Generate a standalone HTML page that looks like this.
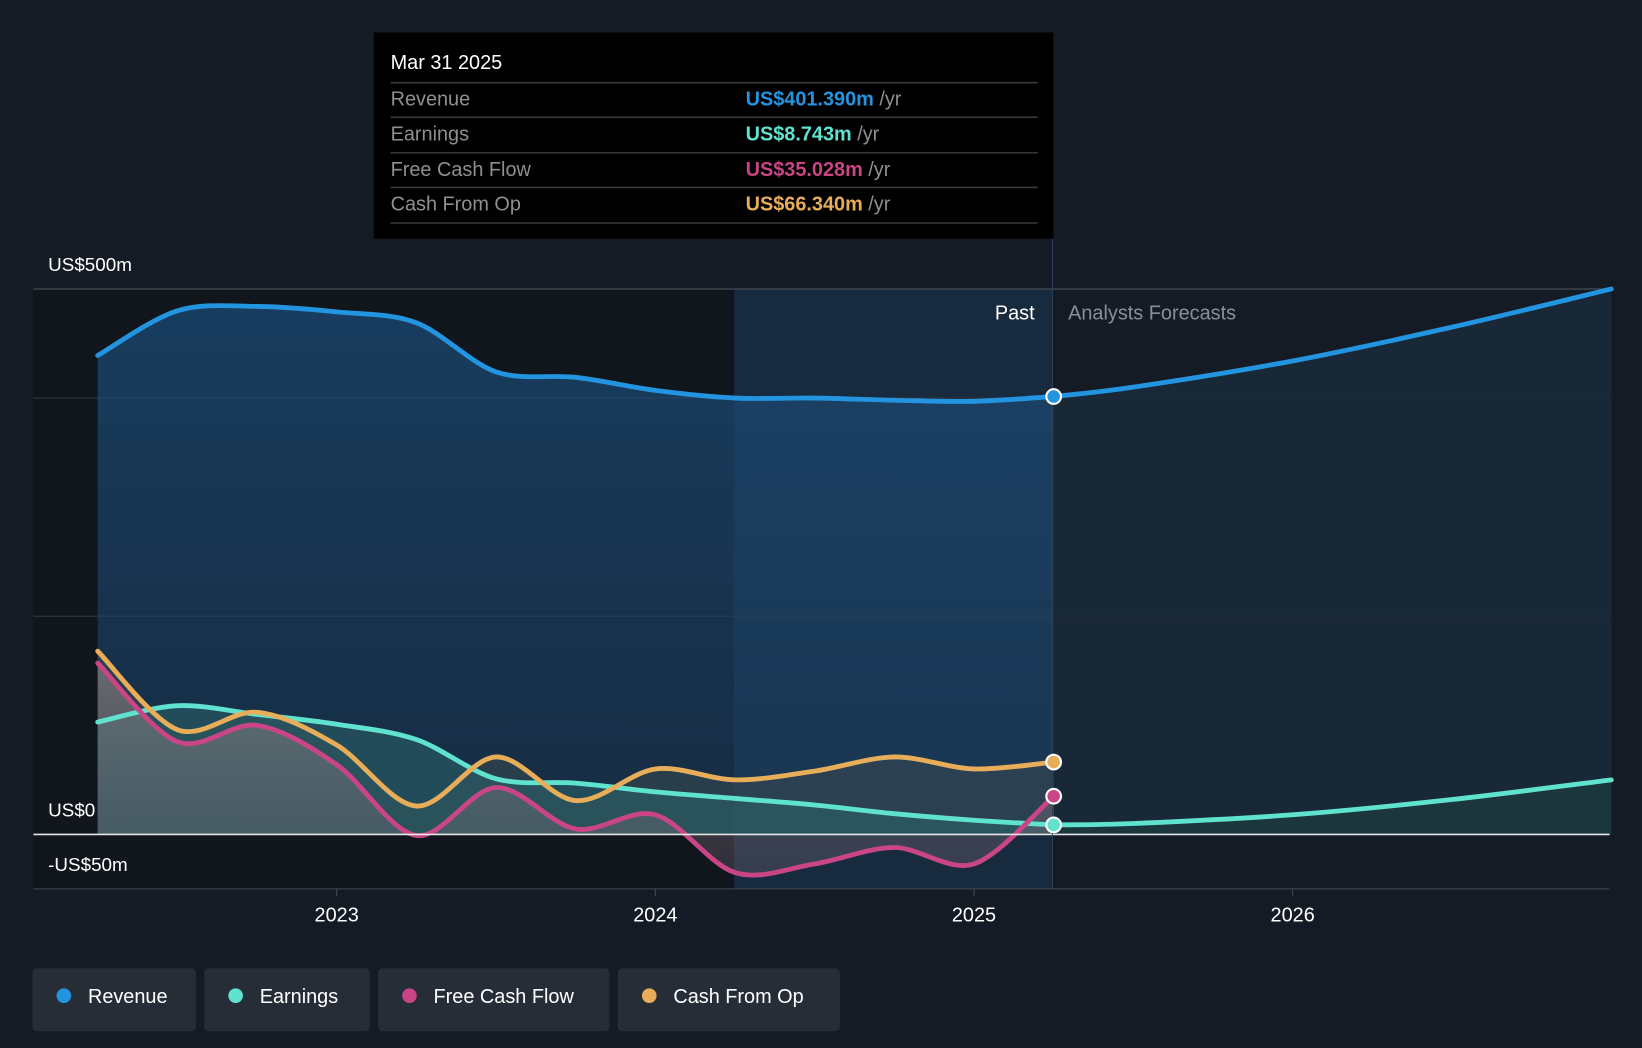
<!DOCTYPE html>
<html><head><meta charset="utf-8"><style>
html,body{margin:0;padding:0;background:#151b25;overflow:hidden}
svg{display:block;font-family:"Liberation Sans",sans-serif}
</style></head><body>
<svg id="chart" width="1642" height="1048" viewBox="0 0 1568 1001" preserveAspectRatio="none" xmlns="http://www.w3.org/2000/svg">
<defs>
<linearGradient id="revFill" x1="0" y1="0" x2="0" y2="1"><stop offset="0" stop-color="#1b4a75" stop-opacity="0.75"/><stop offset="1" stop-color="#1b3f63" stop-opacity="0.55"/></linearGradient>
<linearGradient id="lowFill" x1="0" y1="0" x2="0" y2="1"><stop offset="0" stop-color="#a08e8a" stop-opacity="0.75"/><stop offset="1" stop-color="#6a6070" stop-opacity="0.5"/></linearGradient>
</defs>
<rect x="0" y="0" width="1568" height="1001" fill="#151b25"/>
<rect x="32" y="276" width="669" height="573" fill="#11151c"/>
<rect x="701" y="276" width="304" height="573" fill="#182a3d"/>
<g id="grid"></g>
<g id="areas"></g>
<g id="lines"></g>
<line x1="32" x2="1537" y1="797" y2="797" stroke="#e6e6e6" stroke-width="1.6"/>
<line x1="32" x2="1537" y1="849" y2="849" stroke="#444b55" stroke-width="1"/>
<line x1="1005" x2="1005" y1="228" y2="849" stroke="#2e4157" stroke-width="1"/>
<g id="dots"></g>
<g id="xticks"></g>
<text x="46" y="259" fill="#fff" font-size="18">US$500m</text>
<text x="46" y="780" fill="#fff" font-size="18">US$0</text>
<text x="46" y="832" fill="#fff" font-size="18">-US$50m</text>
<text x="988" y="305" fill="#fff" font-size="19" text-anchor="end">Past</text>
<text x="1020" y="305" fill="#8a8f96" font-size="19">Analysts Forecasts</text>
<g>
<rect x="357" y="31" width="649" height="197" fill="#000"/>
<text x="373" y="66" fill="#fff" font-size="19">Mar 31 2025</text>
<line x1="373" x2="991" y1="79" y2="79" stroke="#3a3a3a" stroke-width="1.5"/>
<text x="373" y="101" fill="#8f8f8f" font-size="19">Revenue</text>
<text x="712" y="101" font-size="19"><tspan fill="#2394e0" font-weight="bold">US$401.390m</tspan><tspan fill="#8f8f8f"> /yr</tspan></text>
<line x1="373" x2="991" y1="112" y2="112" stroke="#3a3a3a" stroke-width="1.5"/>
<text x="373" y="134" fill="#8f8f8f" font-size="19">Earnings</text>
<text x="712" y="134" font-size="19"><tspan fill="#5fe3cf" font-weight="bold">US$8.743m</tspan><tspan fill="#8f8f8f"> /yr</tspan></text>
<line x1="373" x2="991" y1="146" y2="146" stroke="#3a3a3a" stroke-width="1.5"/>
<text x="373" y="168" fill="#8f8f8f" font-size="19">Free Cash Flow</text>
<text x="712" y="168" font-size="19"><tspan fill="#c94586" font-weight="bold">US$35.028m</tspan><tspan fill="#8f8f8f"> /yr</tspan></text>
<line x1="373" x2="991" y1="179" y2="179" stroke="#3a3a3a" stroke-width="1.5"/>
<text x="373" y="201" fill="#8f8f8f" font-size="19">Cash From Op</text>
<text x="712" y="201" font-size="19"><tspan fill="#e8ad59" font-weight="bold">US$66.340m</tspan><tspan fill="#8f8f8f"> /yr</tspan></text>
<line x1="373" x2="991" y1="213" y2="213" stroke="#3a3a3a" stroke-width="1.5"/>
</g>
<g>
<g><rect x="31" y="925" width="156" height="60" rx="4" fill="#272d37"/><circle cx="61" cy="951" r="7" fill="#2394e0"/><text x="84" y="958" fill="#fff" font-size="19">Revenue</text></g>
<g><rect x="195" y="925" width="158" height="60" rx="4" fill="#272d37"/><circle cx="225" cy="951" r="7" fill="#5fe3cf"/><text x="248" y="958" fill="#fff" font-size="19">Earnings</text></g>
<g><rect x="361" y="925" width="221" height="60" rx="4" fill="#272d37"/><circle cx="391" cy="951" r="7" fill="#c94586"/><text x="414" y="958" fill="#fff" font-size="19">Free Cash Flow</text></g>
<g><rect x="590" y="925" width="212" height="60" rx="4" fill="#272d37"/><circle cx="620" cy="951" r="7" fill="#e8ad59"/><text x="643" y="958" fill="#fff" font-size="19">Cash From Op</text></g>
</g>
</svg>
<script>
const pastYears=[2022.25,2022.5,2022.75,2023.0,2023.25,2023.5,2023.75,2024.0,2024.25,2024.5,2024.75,2025.0,2025.25];
const revenue=[439,480,484,479,469,424,419,407,400,400,398,397,401.4];
const earnings=[103,118,110,101,87,51,47,39,33,27,19,13,8.7];
const freeCashFlow=[157,85,100,64,-1,43,5,18,-35,-27,-12,-27,35];
const cashFromOp=[168,96,112,82,26,71,31,60,50,58,71,60,66.3];
const fcYears=[2025.25,2025.5,2026.0,2026.5,2027.0];
const revenueForecast=[401.4,410,434,465,500];
const earningsForecast=[8.7,10,18,32,50];
const gridValues=[500,400,200];
const xTickYears=[2023,2024,2025,2026];
const xTickLabels=["2023","2024","2025","2026"];

const NS="http://www.w3.org/2000/svg";
function X(yr){return 321.5+(yr-2023)*304.3;}
function Y(v){return 797-v*1.042;}
function mk(tag,attrs,parent){const e=document.createElementNS(NS,tag);for(const k in attrs)e.setAttribute(k,attrs[k]);parent.appendChild(e);return e;}
function pathD(xs,vs){
  const p=xs.map((x,i)=>[X(x),Y(vs[i])]);
  let d="M"+p[0][0]+","+p[0][1];
  for(let i=0;i<p.length-1;i++){
    const p0=p[i-1]||p[i],p1=p[i],p2=p[i+1],p3=p[i+2]||p2;
    const t=0.16;
    const c1x=p1[0]+(p2[0]-p0[0])*t,c1y=p1[1]+(p2[1]-p0[1])*t;
    const c2x=p2[0]-(p3[0]-p1[0])*t,c2y=p2[1]-(p3[1]-p1[1])*t;
    d+=" C"+c1x+","+c1y+" "+c2x+","+c2y+" "+p2[0]+","+p2[1];
  }
  return d;
}
function areaD(xs,vs){return pathD(xs,vs)+" L"+X(xs[xs.length-1])+","+Y(0)+" L"+X(xs[0])+","+Y(0)+" Z";}
const grid=document.getElementById('grid'),areas=document.getElementById('areas'),lines=document.getElementById('lines'),dots=document.getElementById('dots'),xt=document.getElementById('xticks');
gridValues.forEach(v=>{const l=mk('line',{x1:32,x2:1537,y1:Y(v),y2:Y(v),stroke:v===500?'#474d57':'#2c3440','stroke-width':1.2},grid);

});
xTickYears.forEach((yr,i)=>{const l=mk('line',{x1:X(yr),x2:X(yr),y1:849,y2:856,stroke:'#444b55'},xt);


const t=mk('text',{x:X(yr),y:880,fill:'#fff','font-size':19,'text-anchor':'middle'},xt);t.textContent=xTickLabels[i];

});
let a;
a=mk('path',{d:areaD(pastYears,revenue),fill:'url(#revFill)'},areas);


a=mk('path',{d:areaD(fcYears,revenueForecast),fill:'#1a2a3b',opacity:0.85},areas);


a=mk('path',{d:areaD(pastYears,cashFromOp),fill:'#3a4a50',opacity:0.55},areas);


a=mk('path',{d:areaD(pastYears,earnings),fill:'#2a6068',opacity:0.6},areas);


a=mk('path',{d:areaD(pastYears,freeCashFlow),fill:'url(#lowFill)',opacity:0.7},areas);


a=mk('path',{d:areaD(fcYears,earningsForecast),fill:'#1d3a40',opacity:0.8},areas);


function line(xs,vs,color,name){const l=mk('path',{d:pathD(xs,vs),fill:'none',stroke:color,'stroke-width':4.6,'stroke-linecap':'round'},lines);

}
line(pastYears,earnings,'#5fe3cf','earnings-line');
line(pastYears,freeCashFlow,'#c94586','free-cash-flow-line');
line(pastYears,cashFromOp,'#e8ad59','cash-from-op-line');
line(pastYears,revenue,'#2394e0','revenue-line');
line(fcYears,revenueForecast,'#2394e0','revenue-forecast-line');
line(fcYears,earningsForecast,'#5fe3cf','earnings-forecast-line');
function dot(v,color,name){const c=mk('circle',{cx:X(2025.25),cy:Y(v),r:7,fill:color,stroke:'#fff','stroke-width':2},dots);

}
const L=pastYears.length-1;
dot(revenue[L],'#2394e0','revenue-marker');
dot(cashFromOp[L],'#e8ad59','cash-from-op-marker');
dot(freeCashFlow[L],'#c94586','free-cash-flow-marker');
dot(earnings[L],'#5fe3cf','earnings-marker');
</script>
</body></html>
